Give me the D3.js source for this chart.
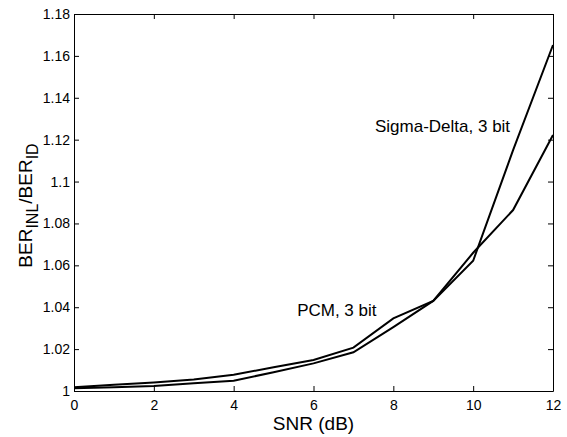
<!DOCTYPE html>
<html>
<head>
<meta charset="utf-8">
<script src="https://cdn.jsdelivr.net/npm/d3@7"></script>
<style>
	body { margin: 0; background: #fff; }
	text { font-family: "Liberation Sans", Arial, sans-serif; fill: #000; }
</style>
</head>
<body>
<div id="chart"></div>
<script>
// values
const snr = [0, 1, 2, 3, 4, 5, 6, 7, 8, 9, 10, 11, 12];
const pcm = [1.0018, 1.003, 1.0041, 1.0055, 1.0078, 1.0113, 1.0148, 1.0207, 1.0347, 1.043, 1.066, 1.0864, 1.1222];
const sigmaDelta = [1.0013, 1.0018, 1.0024, 1.0037, 1.0049, 1.009, 1.0132, 1.0185, 1.0305, 1.043, 1.0622, 1.115, 1.1652];
const xTicks = [0, 2, 4, 6, 8, 10, 12];
const yTicks = [1, 1.02, 1.04, 1.06, 1.08, 1.1, 1.12, 1.14, 1.16, 1.18];
const yTickLabels = ["1", "1.02", "1.04", "1.06", "1.08", "1.1", "1.12", "1.14", "1.16", "1.18"];
const annotations = [
	{ text: "PCM, 3 bit", x: 5.59, y: 1.0358 },
	{ text: "Sigma-Delta, 3 bit", x: 7.54, y: 1.1237 }
];

const config = {
	containerWidth: 567,
	containerHeight: 437,
	margin: { top: 14, right: 14, bottom: 46, left: 74 }
};

const width = config.containerWidth - config.margin.left - config.margin.right;
const height = config.containerHeight - config.margin.top - config.margin.bottom;

const svg = d3.select('#chart').append('svg')
	.attr('width', config.containerWidth)
	.attr('height', config.containerHeight);

svg.append('rect')
	.attr('width', config.containerWidth)
	.attr('height', config.containerHeight)
	.attr('fill', '#fff');

const chart = svg.append('g')
	.attr('transform', `translate(${config.margin.left}, ${config.margin.top})`);

const xScale = d3.scaleLinear().domain([0, 12]).range([0, width]);
const yScale = d3.scaleLinear().domain([1, 1.18]).range([height, 0]);

// matlab style box with inward ticks on all four sides
const xAxis = d3.axisBottom(xScale)
	.tickValues(xTicks)
	.tickFormat(d3.format('d'))
	.tickSizeInner(-5)
	.tickSizeOuter(0)
	.tickPadding(9);

const yAxis = d3.axisLeft(yScale)
	.tickValues(yTicks)
	.tickFormat((d, i) => yTickLabels[i])
	.tickSizeInner(-5)
	.tickSizeOuter(0)
	.tickPadding(4);

chart.append('g')
	.attr('class', 'axis x-axis')
	.attr('transform', `translate(0, ${height})`)
	.call(xAxis);

chart.append('g')
	.attr('class', 'axis y-axis')
	.call(yAxis);

chart.append('g')
	.attr('class', 'axis x-axis-top')
	.call(d3.axisTop(xScale).tickValues(xTicks).tickFormat('').tickSizeInner(-5).tickSizeOuter(0));

chart.append('g')
	.attr('class', 'axis y-axis-right')
	.attr('transform', `translate(${width}, 0)`)
	.call(d3.axisRight(yScale).tickValues(yTicks).tickFormat('').tickSizeInner(-5).tickSizeOuter(0));

chart.selectAll('.axis path, .axis line')
	.attr('stroke', '#000')
	.attr('stroke-width', 1);

chart.selectAll('.axis text')
	.attr('font-size', 14)
	.attr('font-family', '"Liberation Sans", Arial, sans-serif')
	.attr('fill', '#000');

// curves
const line = d3.line()
	.x((d, i) => xScale(snr[i]))
	.y(d => yScale(d));

[pcm, sigmaDelta].forEach(series => {
	chart.append('path')
		.datum(series)
		.attr('fill', 'none')
		.attr('stroke', '#000')
		.attr('stroke-width', 2)
		.attr('stroke-linejoin', 'miter')
		.attr('d', line);
});

// curve labels
chart.selectAll('.note')
	.data(annotations)
	.join('text')
	.attr('class', 'note')
	.attr('x', d => xScale(d.x))
	.attr('y', d => yScale(d.y))
	.attr('font-size', 17)
	.text(d => d.text);

// x label
chart.append('text')
	.attr('text-anchor', 'middle')
	.attr('x', width / 2)
	.attr('y', height + 39)
	.attr('font-size', 19)
	.text('SNR (dB)');

// y label with subscripts
const yLabel = chart.append('text')
	.attr('text-anchor', 'middle')
	.attr('transform', `translate(${32 - config.margin.left}, ${height / 2 + 3}) rotate(-90)`)
	.attr('font-size', 19);
yLabel.append('tspan').text('BER');
yLabel.append('tspan').attr('font-size', 16).attr('dy', 6).text('INL');
yLabel.append('tspan').attr('dy', -6).text('/BER');
yLabel.append('tspan').attr('font-size', 16).attr('dy', 6).text('ID');
</script>
</body>
</html>
